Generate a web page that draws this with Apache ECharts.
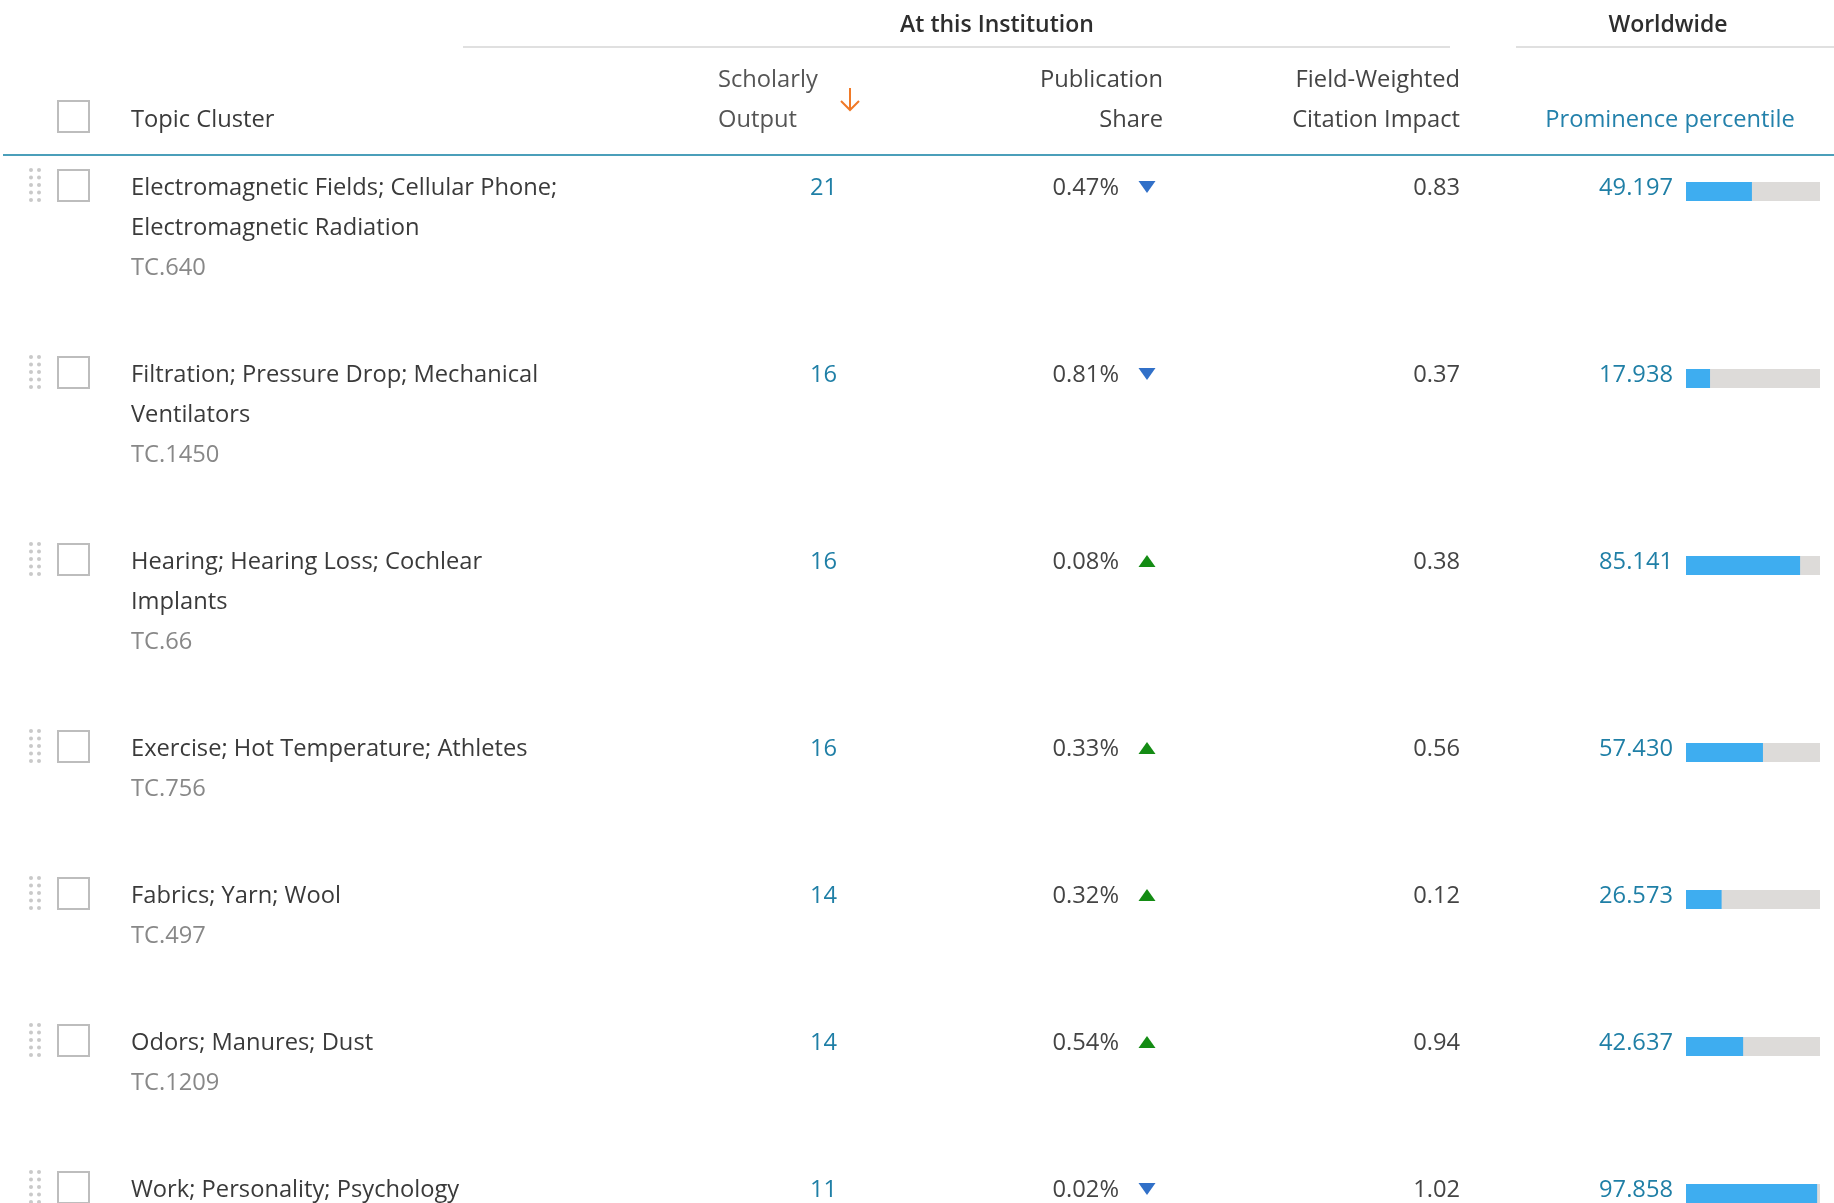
<!DOCTYPE html>
<html><head><meta charset="utf-8">
<script src="https://cdn.jsdelivr.net/npm/echarts@6/dist/echarts.min.js"></script>
<style>html,body{margin:0;padding:0;background:#fff;}#c{width:1834px;height:1203px;}</style>
</head><body><div id="c"></div>
<script>
// ---- data ----
const topics = [
  "Electromagnetic Fields; Cellular Phone;\nElectromagnetic Radiation",
  "Filtration; Pressure Drop; Mechanical\nVentilators",
  "Hearing; Hearing Loss; Cochlear\nImplants",
  "Exercise; Hot Temperature; Athletes",
  "Fabrics; Yarn; Wool",
  "Odors; Manures; Dust",
  "Work; Personality; Psychology"
];
const codes = ["TC.640", "TC.1450", "TC.66", "TC.756", "TC.497", "TC.1209", ""];
const scholarlyOutput = [21, 16, 16, 16, 14, 14, 11];
const publicationShare = ["0.47%", "0.81%", "0.08%", "0.33%", "0.32%", "0.54%", "0.02%"];
const shareTrend = ["down", "down", "up", "up", "up", "up", "down"];
const fwci = ["0.83", "0.37", "0.38", "0.56", "0.12", "0.94", "1.02"];
const prominence = [49.197, 17.938, 85.141, 57.430, 26.573, 42.637, 97.858];

// ---- layout (pixels) ----
const FONT = '"Open Sans"';
const FS = 23.7;
const LINE = 40;
const FIRST_ROW = 186;
const ROW_PAD = 67;
const TY = 2; // text vertical nudge
const RX = 2; // right-aligned text nudge

const rowY = [];
let y = FIRST_ROW;
topics.forEach((t, i) => {
  rowY.push(y);
  const n = t.split('\n').length + (codes[i] ? 1 : 0);
  y += n * LINE + ROW_PAD;
});

const seriesData = prominence.map((v, i) => [v, rowY[i], i]);

function dots(cx, cy) {
  const out = [];
  for (let c = 0; c < 2; c++) for (let r = 0; r < 5; r++) {
    out.push({type: 'circle', shape: {cx: cx + c * 8, cy: cy - 15 + r * 7.5, r: 2}, style: {fill: '#c9c9c9'}});
  }
  return out;
}

function txt(text, x, yy, align, fill, weight, size) {
  return {type: 'text', style: {text, x: align === 'right' ? x + RX : x, y: yy + TY, fill,
    font: (weight || 'normal') + ' ' + (size || FS) + 'px ' + FONT, textAlign: align, textVerticalAlign: 'middle'}};
}

function renderItem(params, api) {
  const i = api.value(2);
  const v = api.value(0);
  const yy = api.value(1);
  const p0 = api.coord([0, yy]);
  const pv = api.coord([v, yy]);
  const p100 = api.coord([100, yy]);
  const cy = p0[1];
  const children = [];
  children.push(...dots(31, cy - 1));
  children.push({type: 'rect', shape: {x: 58, y: cy - 16, width: 31, height: 31},
    style: {fill: '#fff', stroke: '#bdbdbd', lineWidth: 2}});
  const lines = topics[i].split('\n');
  lines.forEach((ln, k) => children.push(txt(ln, 131, cy + k * LINE, 'left', '#3a3a3a')));
  if (codes[i]) children.push(txt(codes[i], 131, cy + lines.length * LINE, 'left', '#888'));
  children.push(txt(String(scholarlyOutput[i]), 835, cy, 'right', '#1f7fa6'));
  children.push(txt(publicationShare[i], 1117, cy, 'right', '#444'));
  const up = shareTrend[i] === 'up';
  const tx = 1147, ty = cy + 1;
  children.push({type: 'polygon', shape: {points: up ?
      [[tx - 8.5, ty + 6], [tx + 8.5, ty + 6], [tx, ty - 6]] :
      [[tx - 8.5, ty - 6], [tx + 8.5, ty - 6], [tx, ty + 6]]},
    style: {fill: up ? '#148c14' : '#3170c8'}});
  children.push(txt(fwci[i], 1458, cy, 'right', '#444'));
  children.push(txt(v.toFixed(3), 1671, cy, 'right', '#1f7fa6'));
  children.push({type: 'rect', shape: {x: p0[0], y: cy - 4, width: p100[0] - p0[0], height: 19},
    style: {fill: '#dddbd9'}});
  children.push({type: 'rect', shape: {x: p0[0], y: cy - 4, width: pv[0] - p0[0], height: 19},
    style: {fill: '#3eadf0'}});
  return {type: 'group', children};
}

const chart = echarts.init(document.getElementById('c'), null, {renderer: 'canvas'});
chart.setOption({
  animation: false,
  grid: {left: 1686, width: 134, top: 0, height: 1203},
  xAxis: {type: 'value', min: 0, max: 100, show: false},
  yAxis: {type: 'value', min: 0, max: 1203, inverse: true, show: false},
  graphic: [
    txt('At this Institution', 997, 23, 'center', '#2e2e2e', '600', 23),
    txt('Worldwide', 1668, 23, 'center', '#2e2e2e', '600', 23),
    {type: 'line', shape: {x1: 463, y1: 47, x2: 1450, y2: 47}, style: {stroke: '#e0e0e0', lineWidth: 2}},
    {type: 'line', shape: {x1: 1516, y1: 47, x2: 1834, y2: 47}, style: {stroke: '#e0e0e0', lineWidth: 2}},
    {type: 'rect', shape: {x: 58, y: 101, width: 31, height: 31}, style: {fill: '#fff', stroke: '#bdbdbd', lineWidth: 2}},
    txt('Topic Cluster', 131, 118, 'left', '#3a3a3a'),
    txt('Scholarly', 718, 78, 'left', '#555'),
    txt('Output', 718, 118, 'left', '#555'),
    {type: 'polyline', shape: {points: [[850, 88], [850, 110]]}, style: {stroke: '#f07a28', lineWidth: 2, fill: null}},
    {type: 'polyline', shape: {points: [[841, 101], [850, 110], [859, 101]]}, style: {stroke: '#f07a28', lineWidth: 2, fill: null}},
    txt('Publication', 1161, 78, 'right', '#444'),
    txt('Share', 1161, 118, 'right', '#444'),
    txt('Field-Weighted', 1458, 78, 'right', '#444'),
    txt('Citation Impact', 1458, 118, 'right', '#444'),
    txt('Prominence percentile', 1670, 118, 'center', '#2381ab'),
    {type: 'line', shape: {x1: 3, y1: 155, x2: 1834, y2: 155}, style: {stroke: '#4b9fba', lineWidth: 2}}
  ],
  series: [{type: 'custom', renderItem, data: seriesData, clip: false}]
});
</script></body></html>
